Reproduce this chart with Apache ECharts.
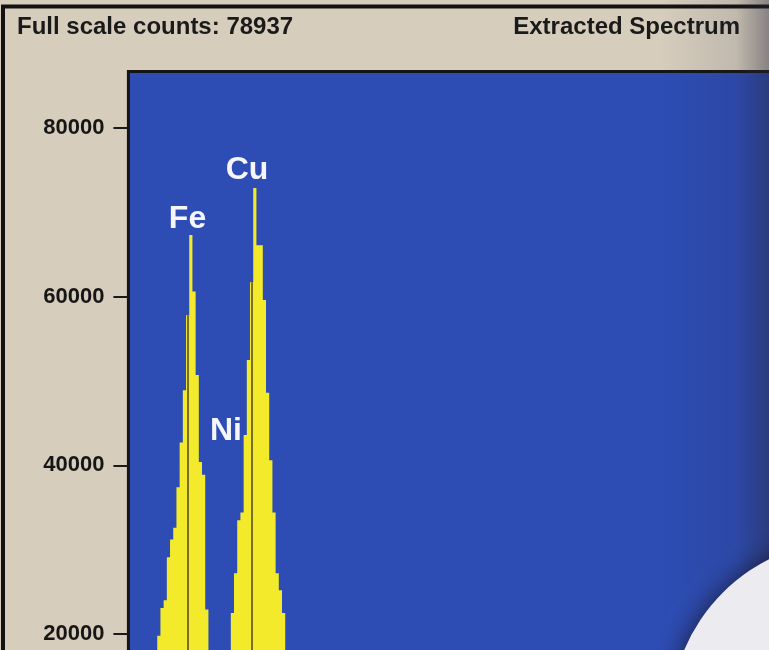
<!DOCTYPE html>
<html><head><meta charset="utf-8">
<script src="https://cdn.jsdelivr.net/npm/echarts@6/dist/echarts.min.js"></script>
<style>html,body{margin:0;padding:0;background:#d6cdbd;}#chart{width:769px;height:650px;}</style>
</head><body><div id="chart"></div>
<script>
// ---- data ----
const titleLeft = 'Full scale counts: 78937';
const titleRight = 'Extracted Spectrum';
const yTickValues = [0, 20000, 40000, 60000, 80000];
const firstChannelKeV = 4.96;      // left edge of first channel
const channelWidthKeV = 0.082;
const counts = [
  2000, 2200, 2600, 3600, 5500, 8600, 12200, 16300, 19800, 23100,
  24000, 29100, 31200, 32600, 37400, 42700, 48900, 57800, 67300, 60600,
  50700, 40400, 38900, 22900, 15700, 12000, 9800, 8700, 9000, 11500,
  16900, 22500, 27200, 33500, 34400, 43600, 52500, 61700, 72900, 66100,
  66100, 59600, 48600, 40600, 34400, 27200, 25200, 22500, 17500, 13400,
  10200, 7600, 5600, 4100, 3200, 2700, 2400, 2200, 2100, 2000
];
const elementNames = ['Fe', 'Ni', 'Cu'];
const elementKeV = [6.404, 7.478, 8.048];       // K-alpha line energies
const labelKeV = [6.392, 7.378, 7.917];         // where each element name is written
const labelCounts = [69200, 44100, 75000];
const markerElements = ['Fe', 'Cu'];

// ---- build ----
const stepData = counts.map((c, i) => [firstChannelKeV + i * channelWidthKeV, c]);
stepData.push([firstChannelKeV + counts.length * channelWidthKeV, counts[counts.length - 1]]);

function countAt(keV) {
  const i = Math.floor((keV - firstChannelKeV) / channelWidthKeV);
  return counts[Math.max(0, Math.min(counts.length - 1, i))];
}
const markerLines = markerElements.map(n => {
  const e = elementKeV[elementNames.indexOf(n)];
  return [{ coord: [e, 0] }, { coord: [e, countAt(e)] }];
});
const labelData = elementNames.map((n, i) => ({ name: n, value: [labelKeV[i], labelCounts[i]] }));

const FONT = 'Liberation Sans, Arial, sans-serif';
const chart = echarts.init(document.getElementById('chart'), null, { renderer: 'canvas' });
chart.setOption({
  backgroundColor: '#d6cdbd',
  animation: false,
  title: [
    { text: titleLeft, left: 12, top: 10,
      textStyle: { fontSize: 24, fontWeight: 'bold', color: '#1a1a1a', fontFamily: FONT } },
    { text: titleRight, right: 24, top: 10,
      textStyle: { fontSize: 24, fontWeight: 'bold', color: '#1a1a1a', fontFamily: FONT } }
  ],
  grid: {
    left: 128.4, top: 71.5, right: -20, bottom: -152.7,
    outerBoundsMode: 'none', containLabel: false,
    show: true, backgroundColor: 'rgb(45,76,180)', borderColor: '#151515', borderWidth: 3
  },
  xAxis: { type: 'value', min: 4.877, max: 21.807, show: false },
  yAxis: {
    type: 'value', min: 0, max: 86700, interval: 20000,
    axisLine: { show: false },
    axisTick: { show: true, inside: false, length: 15, customValues: yTickValues,
      lineStyle: { color: '#1a1a1a', width: 2 } },
    axisLabel: {
      margin: 24, fontSize: 22, fontWeight: 'bold', color: '#161616', fontFamily: FONT,
      customValues: yTickValues, formatter: v => String(v)
    },
    splitLine: { show: false }
  },
  series: [
    {
      type: 'line', step: 'end', data: stepData, symbol: 'none', silent: true,
      lineStyle: { width: 0, color: '#f2ea2a' },
      areaStyle: { color: '#f2ea2a', opacity: 1 },
      markLine: {
        silent: true, symbol: 'none', label: { show: false },
        lineStyle: { color: '#5b4f22', width: 1.6, type: 'solid' },
        data: markerLines
      },
      z: 3
    },
    {
      type: 'scatter', data: labelData, symbolSize: 1, silent: true,
      itemStyle: { color: 'rgba(0,0,0,0)', opacity: 1 },
      labelLayout: { hideOverlap: false },
      label: {
        show: true, position: 'inside', formatter: p => p.name,
        fontSize: 32, fontWeight: 'bold', color: '#f6f6fa', fontFamily: FONT
      },
      z: 5
    }
  ],
  graphic: [
    { type: 'rect', z: 100, silent: true,
      shape: { x: 3, y: 6.5, width: 820, height: 720 },
      style: { fill: null, stroke: '#121212', lineWidth: 4 } },
    { type: 'rect', z: 101, silent: true,
      shape: { x: 660, y: 0, width: 109, height: 650 },
      style: { fill: new echarts.graphic.LinearGradient(0, 0, 1, 0, [
        { offset: 0, color: 'rgba(40,40,60,0)' },
        { offset: 0.7, color: 'rgba(40,40,60,0.12)' },
        { offset: 1, color: 'rgba(40,40,60,0.45)' }
      ]) } },
    { type: 'circle', z: 102, silent: true,
      shape: { cx: 850, cy: 720, r: 180 },
      style: { fill: '#ececf0', shadowBlur: 25, shadowColor: 'rgba(20,20,40,0.8)' } }
  ]
});
</script></body></html>
